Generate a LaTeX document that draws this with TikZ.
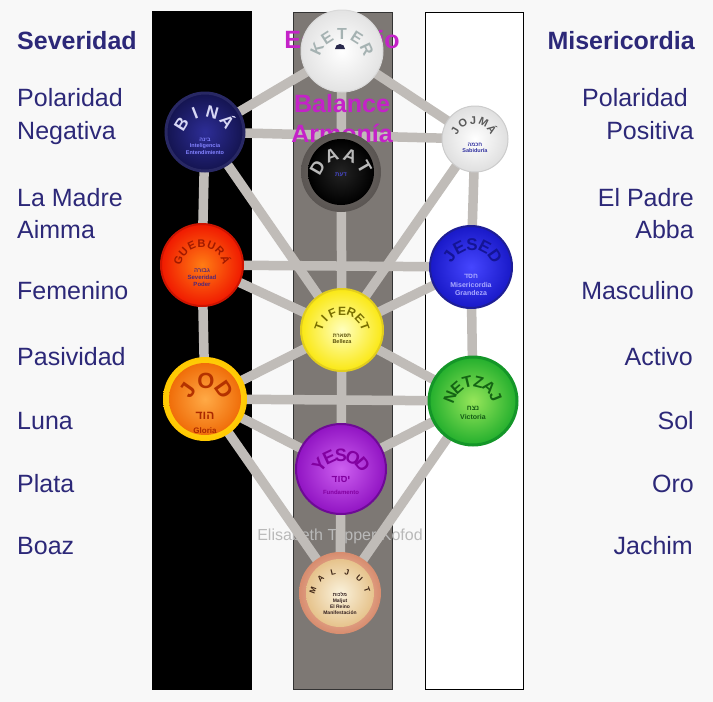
\documentclass[tikz,border=0pt]{standalone}
\usepackage{fontspec}
\setmainfont{Liberation Sans}
\newfontfamily\hebfont[Script=Hebrew]{Liberation Sans}
\TeXXeTstate=1
\usetikzlibrary{calc}
\definecolor{bgc}{RGB}{248,248,248}
\definecolor{lab}{RGB}{44,40,120}
\definecolor{mag}{RGB}{196,34,200}
\definecolor{lineg}{RGB}{192,188,184}
\definecolor{colgray}{RGB}{125,120,116}
\definecolor{ketdot}{RGB}{40,40,75}
\definecolor{bnin}{RGB}{45,45,150}\definecolor{bnout}{RGB}{20,20,80}\definecolor{bnring}{RGB}{40,40,100}
\definecolor{dtin}{RGB}{120,114,110}\definecolor{dtout}{RGB}{90,85,82}\definecolor{dtblk}{RGB}{35,35,35}
\definecolor{gbin}{RGB}{255,125,20}\definecolor{gbout}{RGB}{240,25,0}\definecolor{gbring}{RGB}{205,20,0}
\definecolor{jsin}{RGB}{70,70,255}\definecolor{jsout}{RGB}{25,25,200}\definecolor{jsring}{RGB}{30,30,150}
\definecolor{tfin}{RGB}{255,255,190}\definecolor{tfout}{RGB}{250,232,20}\definecolor{tfring}{RGB}{225,205,30}
\definecolor{jdyin}{RGB}{255,230,60}\definecolor{jdyout}{RGB}{255,200,0}
\definecolor{jdin}{RGB}{255,170,70}\definecolor{jdout}{RGB}{240,110,10}
\definecolor{nzin}{RGB}{150,230,90}\definecolor{nzout}{RGB}{35,175,45}\definecolor{nzring}{RGB}{20,150,40}
\definecolor{ysin}{RGB}{205,95,240}\definecolor{ysout}{RGB}{145,20,195}\definecolor{ysring}{RGB}{110,10,150}
\definecolor{mlrin}{RGB}{250,215,195}\definecolor{mlrout}{RGB}{215,140,110}
\definecolor{mlin}{RGB}{250,242,220}\definecolor{mlout}{RGB}{230,195,140}
\definecolor{ktt}{RGB}{165,178,178}
\definecolor{bnt}{RGB}{215,215,245}\definecolor{bns}{RGB}{130,130,255}
\definecolor{jms}{RGB}{50,50,160}
\definecolor{dts}{RGB}{70,70,200}
\definecolor{gbt}{RGB}{160,25,0}\definecolor{gbs}{RGB}{80,40,120}
\definecolor{jst}{RGB}{20,20,150}\definecolor{jss}{RGB}{170,170,255}
\definecolor{tft}{RGB}{120,110,0}\definecolor{tfs}{RGB}{90,80,10}
\definecolor{jdt}{RGB}{180,50,0}\definecolor{jds}{RGB}{170,40,0}
\definecolor{nzt}{RGB}{20,100,20}\definecolor{nzs}{RGB}{20,90,20}
\definecolor{yst}{RGB}{130,0,160}
\definecolor{mlt}{RGB}{60,35,20}\definecolor{mls}{RGB}{50,30,30}
\newcommand\heb[1]{{\hebfont\beginR #1\endR}}
\newcommand\arcword[7]{%
  \foreach \L [count=\i] in {#7} {\xdef\arcn{\i}}%
  \foreach \L [count=\i] in {#7} {%
    \pgfmathsetmacro\ang{#4-(\i-1)*(#4-#5)/(\arcn-1)}%
    \node[#6, rotate=\ang-90, anchor=base, inner sep=0pt] (#1\i) at ($(#2)+(\ang:#3)$) {\L};
  }}
\tikzset{
  conn/.style={draw=lineg, line width=9.5pt},
  sef/.style={circle, inner sep=0pt, minimum size=#1},
  arcl/.style={font=\bfseries\fontsize{#1}{#1}\selectfont},
  small/.style={align=center, inner sep=0pt, font=\bfseries\fontsize{#1}{\fpeval{1.2*#1}}\selectfont},
  labl/.style={text=lab, inner sep=0pt, font=\fontsize{25}{30}\selectfont},
  labb/.style={text=lab, inner sep=0pt, font=\bfseries\fontsize{25}{30}\selectfont},
  midt/.style={text=mag, inner sep=0pt, anchor=base, font=\bfseries\fontsize{25}{30}\selectfont},
  wm/.style={text=gray!55, inner sep=0pt, anchor=base, font=\fontsize{16}{18}\selectfont}
}
\begin{document}
\begin{tikzpicture}[x=1pt,y=1pt]
\useasboundingbox (0,0) rectangle (713,-702);
\fill[bgc] (0,0) rectangle (713,-702);
% columns
\fill[black] (152,-11) rectangle (252,-690);
\filldraw[fill=colgray, draw=black!80, line width=1pt] (293,-12) rectangle (392,-689);
\filldraw[fill=white, draw=black, line width=1pt] (425,-12) rectangle (523,-689);
% watermark
\node[wm] (wm) at (340,-540) {Elisabeth Tepper Kofod};
% centres
\coordinate (kt) at (342,-51);
\coordinate (bn) at (205,-132);
\coordinate (jm) at (475,-139);
\coordinate (dt) at (341,-172);
\coordinate (gb) at (202,-265);
\coordinate (js) at (471,-267);
\coordinate (tf) at (342,-330);
\coordinate (jd) at (205,-399);
\coordinate (nz) at (473,-401);
\coordinate (ys) at (341,-469);
\coordinate (ml) at (340,-593);
% paths
\draw[conn] (kt) -- (bn);
\draw[conn] (kt) -- (jm);
\draw[conn] (kt) -- (dt);
\draw[conn] (dt) -- (tf);
\draw[conn] (tf) -- (ys);
\draw[conn] (ys) -- (ml);
\draw[conn] (bn) -- (jm);
\draw[conn] (bn) -- (gb);
\draw[conn] (gb) -- (jd);
\draw[conn] (jm) -- (js);
\draw[conn] (js) -- (nz);
\draw[conn] (bn) -- (tf);
\draw[conn] (jm) -- (tf);
\draw[conn] (gb) -- (js);
\draw[conn] (gb) -- (tf);
\draw[conn] (js) -- (tf);
\draw[conn] (jd) -- (tf);
\draw[conn] (nz) -- (tf);
\draw[conn] (jd) -- (nz);
\draw[conn] (jd) -- (ys);
\draw[conn] (nz) -- (ys);
\draw[conn] (jd) -- (ml);
\draw[conn] (nz) -- (ml);
% middle texts
\node[midt] (equi) at (342,-48) {Equilibrio};
\node[midt] (bal) at (342,-112) {Balance};
\node[midt] (arm) at (342,-142) {Armonía};
% sefirot
\node[sef=82pt, inner color=white, outer color=gray!22, draw=gray!30, line width=1pt] (kt-c) at (kt) {};
\fill[ketdot] (345,-49) arc[start angle=0, end angle=180, radius=5] -- cycle;
\node[sef=78pt, inner color=bnin, outer color=bnout, draw=bnring, line width=3pt] (bn-c) at (bn) {};
\node[sef=66pt, inner color=white, outer color=gray!25, draw=gray!40, line width=1pt] (jm-c) at (jm) {};
\node[sef=80pt, inner color=dtin, outer color=dtout] (dt-o) at (dt) {};
\node[sef=66pt, inner color=dtblk, outer color=black] (dt-c) at (dt) {};
\node[sef=82pt, inner color=gbin, outer color=gbout, draw=gbring, line width=2pt] (gb-c) at (gb) {};
\node[sef=82pt, inner color=jsin, outer color=jsout, draw=jsring, line width=2pt] (js-c) at (js) {};
\node[sef=82pt, inner color=tfin, outer color=tfout, draw=tfring, line width=2pt] (tf-c) at (tf) {};
\node[sef=84pt, inner color=jdyin, outer color=jdyout] (jd-o) at (jd) {};
\node[sef=72pt, inner color=jdin, outer color=jdout] (jd-c) at (jd) {};
\node[sef=88pt, inner color=nzin, outer color=nzout, draw=nzring, line width=3pt] (nz-c) at (nz) {};
\node[sef=90pt, inner color=ysin, outer color=ysout, draw=ysring, line width=2pt] (ys-c) at (ys) {};
\node[sef=82pt, inner color=mlrin, outer color=mlrout] (ml-o) at (ml) {};
\node[sef=68pt, inner color=mlin, outer color=mlout] (ml-c) at (ml) {};
% arched names
\arcword{ktl}{342,-61}{22}{155}{25}{arcl=16, text=ktt}{K,E,T,E,R}
\arcword{bnl}{205,-139}{22}{148}{38}{arcl=17, text=bnt}{B,I,N,Á}
\arcword{jml}{474,-142}{18}{150}{35}{arcl=11, text=gray!70!black}{J,O,J,M,Á}
\arcword{dtl}{341,-181}{21}{150}{30}{arcl=18, text=gray!55}{D,A,A,T}
\arcword{gbl}{202,-268}{21}{162}{20}{arcl=11, text=gbt}{G,U,E,B,U,R,Á}
\arcword{jsl}{472,-272}{22}{145}{35}{arcl=17, text=jst}{J,E,S,E,D}
\arcword{tfl}{342,-335}{20}{160}{20}{arcl=12, text=tft}{T,I,F,E,R,E,T}
\arcword{jdl}{206,-403}{15}{145}{35}{arcl=22, text=jdt}{J,O,D}
\arcword{nzl}{473,-406}{19}{158}{22}{arcl=16, text=nzt}{N,E,T,Z,A,J}
\arcword{ysl}{341,-483}{22}{140}{40}{arcl=18, text=yst}{Y,E,S,O,D}
\arcword{mll}{340,-600}{26}{160}{20}{arcl=8, text=mlt}{M,A,L,J,U,T}
% inner small texts
\node[small=5.5, text=bns] (bn-t) at (205,-146) {\heb{בינה}\\Inteligencia\\Entendimiento};
\node[small=5.5, text=jms] (jm-t) at (475,-148) {\heb{חכמה}\\Sabiduría};
\node[small=6, text=dts] (dt-t) at (341,-175) {\heb{דעת}};
\node[small=6, text=gbs] (gb-t) at (202,-278) {\heb{גבורה}\\Severidad\\Poder};
\node[small=7, text=jss] (js-t) at (471,-285) {\heb{חסד}\\Misericordia\\Grandeza};
\node[small=5.5, text=tfs] (tf-t) at (342,-339) {\heb{תפארת}\\Belleza};
\node[small=12, text=jds] (jd-h) at (205,-416) {\heb{הוד}};
\node[small=8, text=jds] (jd-t) at (205,-431) {Gloria};
\node[small=7, text=nzs] (nz-t) at (473,-413) {\heb{נצח}\\Victoria};
\node[small=10, text=yst] (ys-h) at (341,-480) {\heb{יסוד}};
\node[small=6, text=yst] (ys-t) at (341,-492) {Fundamento};
\node[small=5, text=mls] (ml-t) at (340,-603) {\heb{מלכות}\\Maljut\\El Reino\\Manifestación};
% left labels
\node[labb, anchor=base west] (l1) at (17,-49) {Severidad};
\node[labl, anchor=base west] (l2a) at (17,-106) {Polaridad};
\node[labl, anchor=base west] (l2b) at (17,-139) {Negativa};
\node[labl, anchor=base west] (l3a) at (17,-206) {La Madre};
\node[labl, anchor=base west] (l3b) at (17,-238) {Aimma};
\node[labl, anchor=base west] (l4) at (17,-299) {Femenino};
\node[labl, anchor=base west] (l5) at (17,-365) {Pasividad};
\node[labl, anchor=base west] (l6) at (17,-429) {Luna};
\node[labl, anchor=base west] (l7) at (17,-492) {Plata};
\node[labl, anchor=base west] (l8) at (17,-554) {Boaz};
% right labels
\node[labb, anchor=base east] (r1) at (695,-49) {Misericordia};
\node[labl, anchor=base east] (r2a) at (688,-106) {Polaridad};
\node[labl, anchor=base east] (r2b) at (694,-139) {Positiva};
\node[labl, anchor=base east] (r3a) at (694,-206) {El Padre};
\node[labl, anchor=base east] (r3b) at (694,-238) {Abba};
\node[labl, anchor=base east] (r4) at (694,-299) {Masculino};
\node[labl, anchor=base east] (r5) at (693,-365) {Activo};
\node[labl, anchor=base east] (r6) at (694,-429) {Sol};
\node[labl, anchor=base east] (r7) at (694,-492) {Oro};
\node[labl, anchor=base east] (r8) at (693,-554) {Jachim};
\end{tikzpicture}
\end{document}
